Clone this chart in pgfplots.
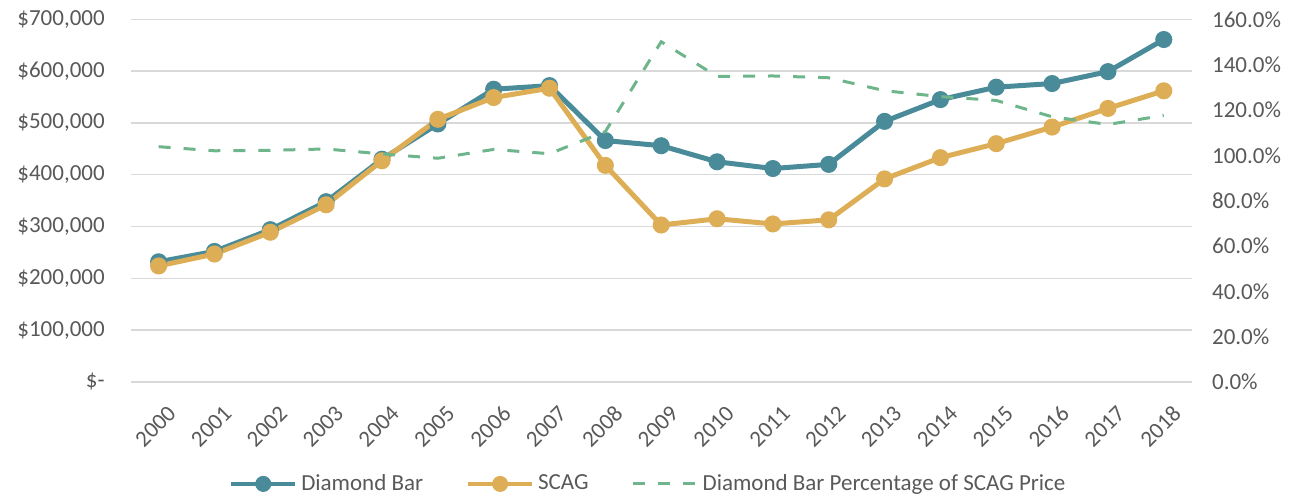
\documentclass[border=0pt]{standalone}
\usepackage{fontspec}
\setmainfont{Carlito}
\usepackage{pgfplots}
\pgfplotsset{compat=1.18}

\definecolor{dbteal}{HTML}{4A8B9A}
\definecolor{scaggold}{HTML}{DDAE55}
\definecolor{pctgreen}{HTML}{6EB58C}
\definecolor{gridgray}{HTML}{D9D9D9}
\definecolor{labelgray}{HTML}{595959}

\pgfplotstableread{
x db scag pct
0 232000 224000 103.8
1 252000 247000 102.0
2 294000 289000 102.2
3 348000 342000 102.8
4 430000 427000 100.6
5 498000 507000 98.7
6 565000 549000 102.6
7 572000 567000 100.7
8 466000 418000 110.5
9 456000 303000 150.1
10 425000 315000 134.8
11 412000 305000 135.0
12 420000 313000 134.2
13 503000 392000 128.5
14 545000 433000 125.9
15 569000 460000 124.2
16 576000 492000 117.0
17 599000 528000 113.6
18 661000 562000 117.6
}\prices

\pgfplotsset{
  common/.style={
    at={(0,0)}, anchor=south west,
    scale only axis, width=530.5pt, height=181.35pt,
    xmin=-0.5, xmax=18.5,
    axis line style={draw=none},
    major tick length=0pt,
    tick label style={font=\fontsize{11.5}{13}\selectfont, text=labelgray},
    /pgf/number format/assume math mode=true,
    clip=false,
  },
}

\begin{document}
\begin{tikzpicture}
\path[use as bounding box] (-65.35pt,-57.5pt) rectangle (582.15pt,191pt);

% left axis: prices
\begin{axis}[
  common,
  ymin=0, ymax=700000,
  ytick={0,100000,200000,300000,400000,500000,600000,700000},
  yticklabels={{\$-\hspace{5pt}},{\$100,000},{\$200,000},{\$300,000},{\$400,000},{\$500,000},{\$600,000},{\$700,000}},
  yticklabel style={inner sep=0pt, xshift=-12.8pt},
  scaled y ticks=false,
  ymajorgrids, grid style={gridgray, line width=0.75pt},
  xtick={0,...,18},
  xticklabels={2000,2001,2002,2003,2004,2005,2006,2007,2008,2009,2010,2011,2012,2013,2014,2015,2016,2017,2018},
  xticklabel style={rotate=45, anchor=east, inner sep=0pt, xshift=-5pt, yshift=-14.5pt},
]
\addplot[dbteal, line width=2.5pt, mark=*, mark size=3pt] table[x=x, y=db] {\prices};
\addplot[scaggold, line width=2.5pt, mark=*, mark size=3pt] table[x=x, y=scag] {\prices};
\end{axis}

% right axis: percentage
\begin{axis}[
  common,
  ymin=0, ymax=160,
  axis y line*=right, axis x line=none,
  ytick={0,20,...,160},
  yticklabel={\pgfmathprintnumber[fixed,fixed zerofill,precision=1]{\tick}\%},
  yticklabel style={inner sep=0pt, xshift=10pt, anchor=west},
  legend columns=3,
  legend style={at={(0.4888,-0.281)}, anchor=center, draw=none, fill=none,
    font=\fontsize{11.5}{13}\selectfont, text=labelgray,
    /tikz/every even column/.append style={column sep=19.5pt},
    inner sep=0pt},
  legend cell align=left,
  legend image code/.code={%
    \draw[mark repeat=2, mark phase=2, #1] plot coordinates {(0pt,0pt) (16pt,0pt) (32pt,0pt)};},
]
\addlegendimage{dbteal, line width=2pt, mark=*, mark size=3pt}
\addlegendentry{Diamond Bar}
\addlegendimage{scaggold, line width=2pt, mark=*, mark size=3pt}
\addlegendentry{SCAG}
\addplot[pctgreen, line width=1.5pt, dash pattern=on 6pt off 6.5pt] table[x=x, y=pct] {\prices};
\addlegendentry{Diamond Bar Percentage of SCAG Price}
\end{axis}
\end{tikzpicture}
\end{document}
